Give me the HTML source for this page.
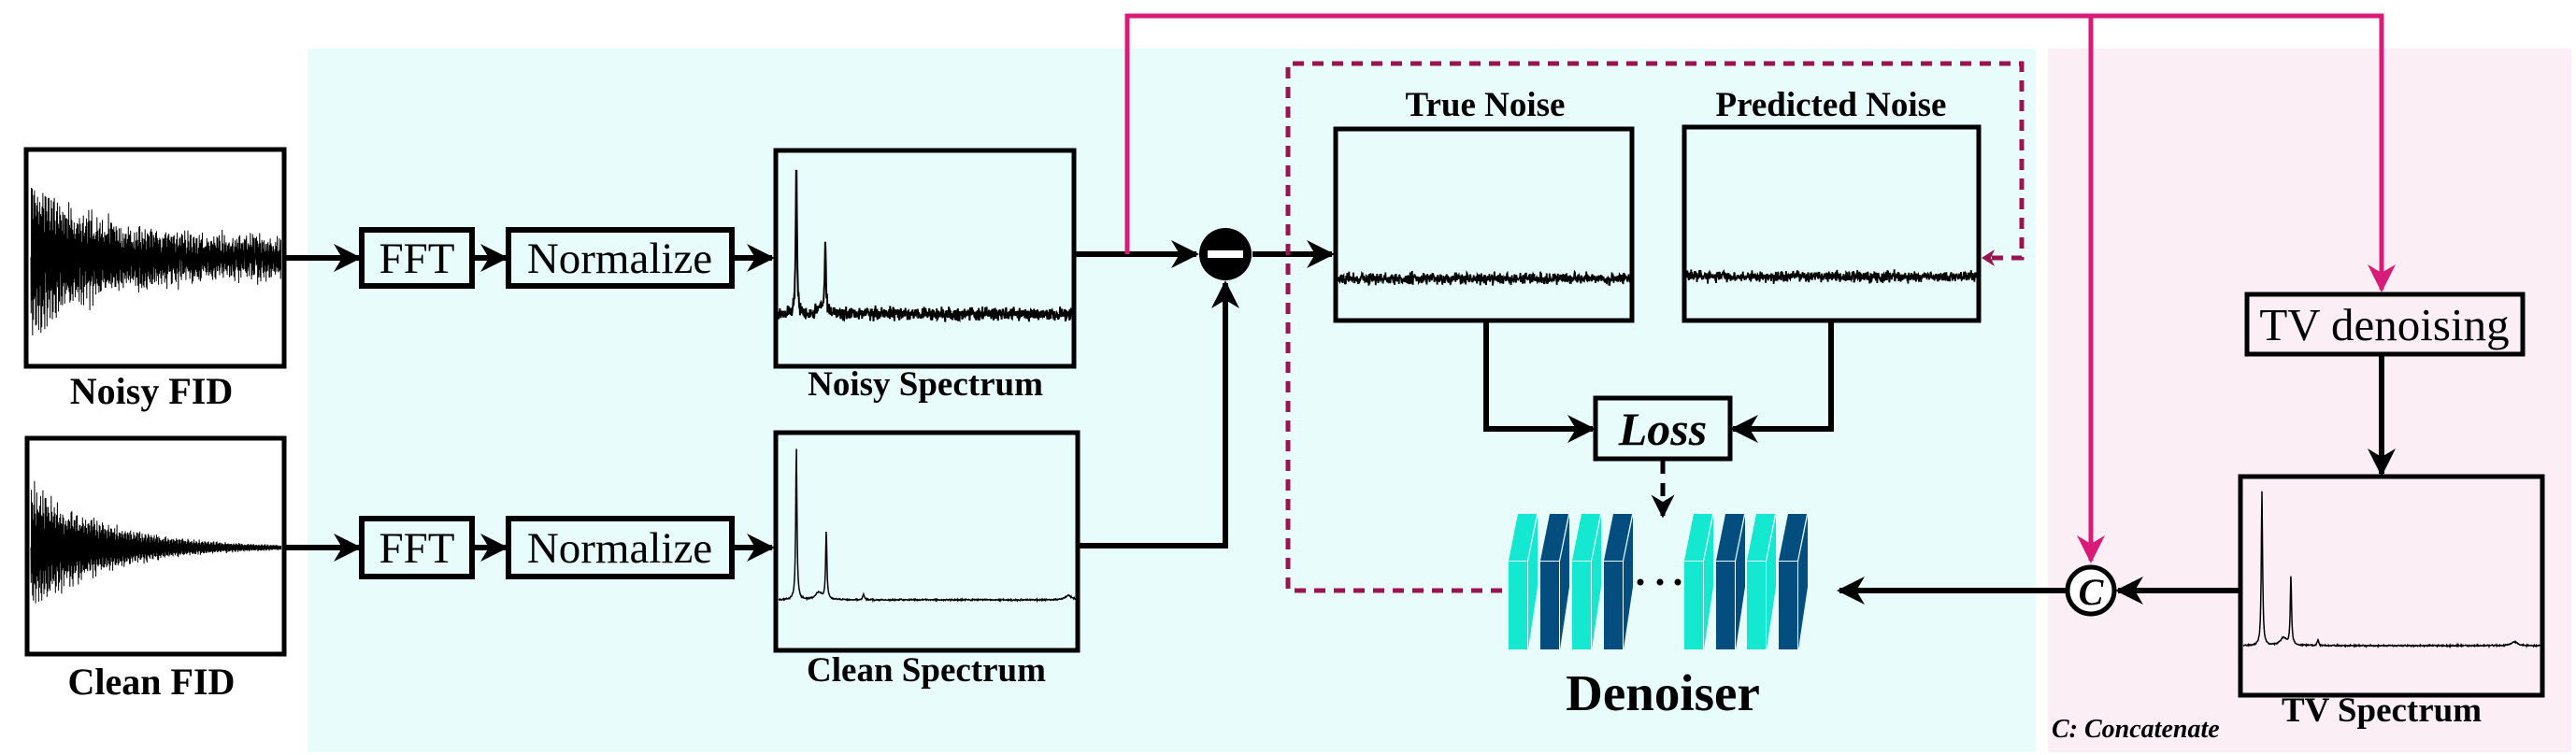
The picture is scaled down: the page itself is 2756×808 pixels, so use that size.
<!DOCTYPE html>
<html><head><meta charset="utf-8"><style>
html,body{margin:0;padding:0;background:#fff;}
svg{display:block;}
text{font-family:"Liberation Serif","DejaVu Serif",serif;}
</style></head><body>
<svg id="s" width="2756" height="808" viewBox="0 0 2756 808" xmlns="http://www.w3.org/2000/svg">
<defs>
<marker id="ah" viewBox="0 0 10 10" refX="9" refY="5" markerWidth="5" markerHeight="5" orient="auto-start-reverse" markerUnits="strokeWidth"><path d="M0,0 L10,5 L0,10 L3,5 z" fill="#000"/></marker>
<marker id="ahp" viewBox="0 0 10 10" refX="9" refY="5" markerWidth="6" markerHeight="6" orient="auto" markerUnits="strokeWidth"><path d="M0,0 L10,5 L0,10 L3,5 z" fill="#d81b78"/></marker>
<clipPath id="c1"><rect x="31" y="163" width="270" height="226"/></clipPath>
<clipPath id="c2"><rect x="32" y="472" width="269" height="225"/></clipPath>
</defs>
<rect x="329" y="52" width="1849" height="753" fill="#e8fdfb"/>
<rect x="2191" y="52" width="560" height="753" fill="#fbeff5"/>

<!-- FID boxes -->
<rect x="28" y="160" width="276" height="232" fill="#fff" stroke="#000" stroke-width="5"/>
<rect x="29" y="469" width="275" height="231" fill="#fff" stroke="#000" stroke-width="5"/>
<path id="fid1" fill="none" stroke="#000" stroke-width="1" clip-path="url(#c1)"/>
<path id="fid2" fill="none" stroke="#000" stroke-width="1" clip-path="url(#c2)"/>
<text x="162" y="432" font-size="40" font-weight="bold" text-anchor="middle">Noisy FID</text>
<text x="162" y="743" font-size="40" font-weight="bold" text-anchor="middle">Clean FID</text>

<!-- FFT / Normalize -->
<g fill="none" stroke="#000" stroke-width="6">
<rect x="387" y="246" width="118" height="60"/>
<rect x="544" y="246" width="239" height="60"/>
<rect x="387" y="555" width="118" height="62"/>
<rect x="544" y="555" width="239" height="62"/>
</g>
<g font-size="47" text-anchor="middle">
<text x="446" y="292">FFT</text><text x="663" y="292">Normalize</text>
<text x="446" y="602">FFT</text><text x="663" y="602">Normalize</text>
</g>
<g stroke="#000" stroke-width="6" fill="none" marker-end="url(#ah)">
<line x1="304" y1="276" x2="384" y2="276"/>
<line x1="508" y1="276" x2="541" y2="276"/>
<line x1="786" y1="276" x2="826" y2="276"/>
<line x1="304" y1="586" x2="384" y2="586"/>
<line x1="508" y1="586" x2="541" y2="586"/>
<line x1="786" y1="586" x2="826" y2="586"/>
<line x1="1149" y1="272" x2="1280" y2="272"/>
<polyline points="1153,584 1311,584 1311,303"/>
<line x1="1340" y1="272" x2="1425" y2="272"/>
<polyline points="1590,343 1590,459 1704,459"/>
<polyline points="1959,343 1959,459 1854,459"/>
<line x1="2213" y1="632" x2="1968" y2="632"/>
<line x1="2397" y1="632" x2="2266" y2="632"/>
<line x1="2548" y1="379" x2="2548" y2="507"/>
</g>
<line x1="1779" y1="493" x2="1779" y2="552" stroke="#000" stroke-width="5" stroke-dasharray="14,10" marker-end="url(#ah)"/>

<!-- spectra boxes -->
<g fill="none" stroke="#000" stroke-width="5">
<rect x="830" y="161" width="319" height="231"/>
<rect x="830" y="463" width="323" height="233"/>
<rect x="1429" y="138" width="317" height="205"/>
<rect x="1802" y="136" width="315" height="207"/>
<rect x="2397" y="510" width="323" height="234"/>
<rect x="1707" y="426" width="144" height="65"/>
<rect x="2404" y="315" width="295" height="64"/>
</g>
<path id="sp1" fill="none" stroke="#000" stroke-width="2"/>
<path id="sp2" fill="none" stroke="#000" stroke-width="1.5"/>
<path id="sp3" fill="none" stroke="#000" stroke-width="1.5"/>
<path id="n1" fill="none" stroke="#000" stroke-width="1.8"/>
<path id="n2" fill="none" stroke="#000" stroke-width="1.8"/>
<g font-size="37" font-weight="bold" text-anchor="middle">
<text x="990" y="423">Noisy Spectrum</text>
<text x="991" y="729">Clean Spectrum</text>
<text x="1589" y="124">True Noise</text>
<text x="1959" y="124">Predicted Noise</text>
<text x="2548" y="772">TV Spectrum</text>
</g>
<text x="1779" y="476" font-size="50" font-weight="bold" font-style="italic" text-anchor="middle">Loss</text>
<text x="2551" y="364" font-size="49" text-anchor="middle">TV denoising</text>
<text x="1779" y="760" font-size="55" font-weight="bold" text-anchor="middle">Denoiser</text>
<text x="2195" y="789" font-size="28" font-weight="bold" font-style="italic">C: Concatenate</text>

<!-- minus circle -->
<circle cx="1311" cy="272" r="28" fill="#000"/>
<rect x="1292" y="268" width="38" height="8" fill="#fff"/>
<!-- C circle -->
<circle cx="2237" cy="632" r="25" fill="#fff" stroke="#000" stroke-width="5"/>
<text x="2237" y="647" font-size="40" font-weight="bold" font-style="italic" text-anchor="middle">C</text>

<!-- pink lines -->
<g stroke="#d81b78" stroke-width="5" fill="none">
<polyline points="1206,272 1206,17 2548,17 2548,310" marker-end="url(#ahp)"/>
<line x1="2237" y1="17" x2="2237" y2="600" marker-end="url(#ahp)"/>
</g>
<!-- dashed purple -->
<g stroke="#9b1452" stroke-width="5" fill="none" stroke-dasharray="12,9">
<polyline points="1607,632 1378,632 1378,68 2163,68 2163,276 2124,276"/>
</g>
<path d="M2120,276 l14,-9 l-4,9 l4,9 z" fill="#9b1452"/>

<!-- denoiser blocks -->
<g id="blocks"></g>
<g fill="#000"><circle cx="1755" cy="623" r="3.5"/><circle cx="1776" cy="623" r="3.5"/><circle cx="1795" cy="623" r="3.5"/></g>
</svg>
<script>
var seed=7;function r(){seed=(seed*16807)%2147483647;return seed/2147483647;}
function g(){return (r()+r()+r()-1.5)*1.3;}
function fid(id,x0,x1,cy,A,tau,floor){var d="",n=900;for(var i=0;i<=n;i++){var x=x0+(x1-x0)*i/n,t=i/n;var a=A*Math.exp(-t/tau)+floor;var y=cy+a*Math.sin(i*2.3)*(0.6+0.4*r())+floor*0.4*g();d+=(i?"L":"M")+x.toFixed(1)+","+y.toFixed(1);}document.getElementById(id).setAttribute("d",d);}
fid("fid1",33,302,276,70,0.3,18);
fid("fid2",33,302,586,75,0.3,0.5);
function spec(id,x0,x1,base,noise,peaks,n){var d="";for(var i=0;i<=n;i++){var x=x0+(x1-x0)*i/n;var y=base+noise*g();peaks.forEach(function(p){var w=p[2]||1.2;y-=p[1]/(1+Math.pow((x-p[0])/w,2));});d+=(i?"L":"M")+x.toFixed(1)+","+y.toFixed(1);}document.getElementById(id).setAttribute("d",d);}
spec("sp1",833,1147,336,5,[[852,160,0.8],[883,72,0.8],[878,8,4]],900);
spec("sp2",833,1151,642,0.6,[[852,163,0.8],[884,73,0.8],[876,8,4],[924,6,1],[1143,5,4]],700);
spec("sp3",2400,2718,691,0.6,[[2420,165,0.8],[2451,74,0.8],[2443,8,4],[2480,6,1],[2690,4,4]],700);
spec("n1",1432,1744,298,4.5,[],800);
spec("n2",1805,2115,296,4.5,[],800);
var xs=[1614,1648,1682,1716,1802,1836,1869,1903],c=["#15e8d0","#034e7e"],h="";
xs.forEach(function(x,i){var col=c[i%2];h+='<polygon points="'+[x,600,x+20,600,x+30,550,x+10,550].join(",")+'" fill="'+col+'"/>';h+='<rect x="'+x+'" y="601" width="20" height="94" fill="'+col+'"/>';h+='<polygon points="'+[x+21,601,x+31,552,x+31,628,x+21,695].join(",")+'" fill="'+col+'"/>';});
document.getElementById("blocks").innerHTML=h;
</script>
</body></html>
